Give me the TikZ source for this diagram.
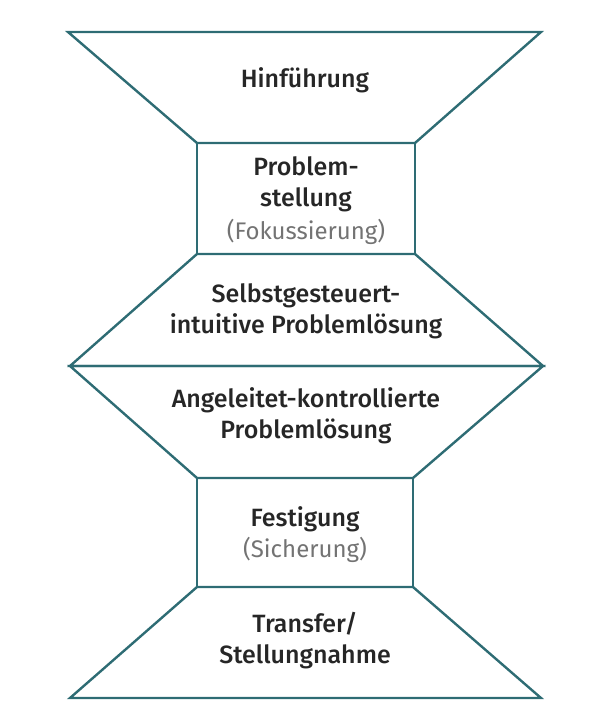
\documentclass[tikz,border=0pt]{standalone}
\usepackage{fontspec}
\setmainfont{Fira Sans}[BoldFont={Fira Sans Medium}]
\begin{document}
\begin{tikzpicture}[x=1pt,y=-1pt,
  outline/.style={draw=teal0,line width=2.4pt,line join=miter},
  lbl/.style={align=center,font=\fontsize{25}{31}\selectfont\bfseries,text=black!85},
  sub/.style={font=\fontsize{24}{31}\selectfont,text=black!55}]
\definecolor{teal0}{HTML}{2E6C74}
\useasboundingbox (0,0) rectangle (589,719);
% corners
\coordinate (a1) at (68,32);  \coordinate (a2) at (541,32);
\coordinate (b1) at (197,143); \coordinate (b2) at (415,143);
\coordinate (c1) at (197,254); \coordinate (c2) at (415,254);
\coordinate (d1) at (70,366); \coordinate (d2) at (543,366);
\coordinate (e1) at (197,478); \coordinate (e2) at (413,478);
\coordinate (f1) at (197,587); \coordinate (f2) at (413,587);
\coordinate (g1) at (70,698); \coordinate (g2) at (541,698);
% shapes
\draw[outline] (a1) -- (a2) -- (b2) -- (b1) -- cycle;
\draw[outline] (b1) -- (b2) -- (c2) -- (c1) -- cycle;
\draw[outline] (c1) -- (c2) -- (d2) -- (d1) -- cycle;
\draw[outline] (d1) -- (d2) -- (e2) -- (e1) -- cycle;
\draw[outline] (e1) -- (e2) -- (f2) -- (f1) -- cycle;
\draw[outline] (f1) -- (f2) -- (g2) -- (g1) -- cycle;
% labels
\node[lbl] (hin) at (305,80) {Hinführung};
\node[lbl] (prob) at (306,184) {Problem-\\stellung};
\node[sub] (fok) at (306,232) {(Fokussierung)};
\node[lbl] (selb) at (306,311) {Selbstgesteuert-\\intuitive Problemlösung};
\node[lbl] (ang) at (306,416) {Angeleitet-kontrollierte\\Problemlösung};
\node[lbl] (fest) at (305,519) {Festigung};
\node[sub] (sich) at (305,550) {(Sicherung)};
\node[lbl] (trans) at (305,641) {Transfer/\\Stellungnahme};
\end{tikzpicture}
\end{document}
